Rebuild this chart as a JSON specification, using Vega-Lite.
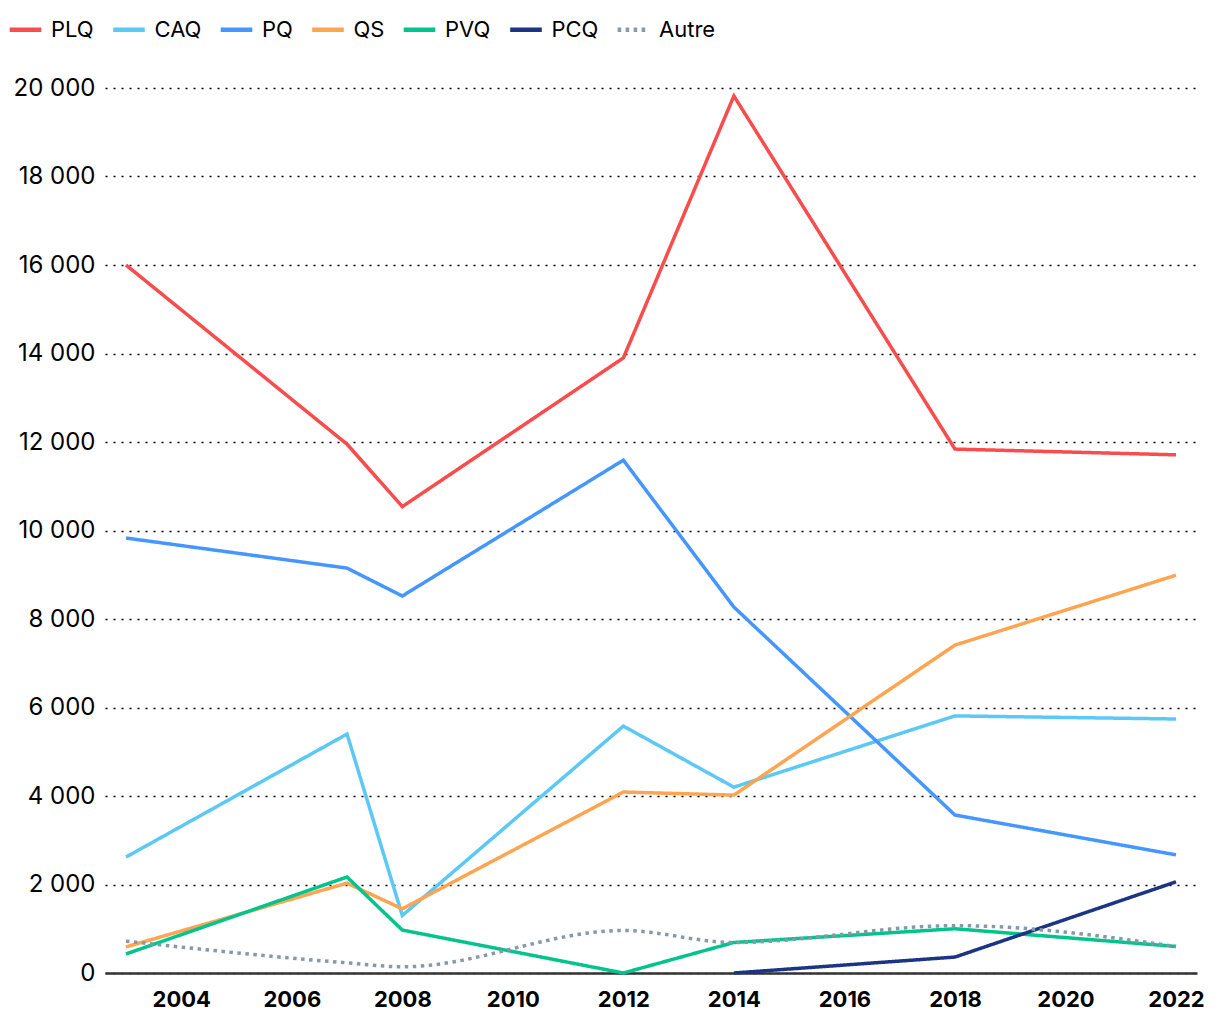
{
  "$schema": "https://vega.github.io/schema/vega-lite/v6.json",
  "width": 1092,
  "height": 885,
  "autosize": {"type": "none"},
  "padding": {"left": 105, "top": 88, "right": 23, "bottom": 47},
  "config": {"view": {"stroke": null}, "font": "Inter", "background": "white"},
  "data": {"values": [
    {"annee": 2003, "parti": "PLQ", "votes": 16000},
    {"annee": 2007, "parti": "PLQ", "votes": 11950},
    {"annee": 2008, "parti": "PLQ", "votes": 10540},
    {"annee": 2012, "parti": "PLQ", "votes": 13900},
    {"annee": 2014, "parti": "PLQ", "votes": 19820},
    {"annee": 2018, "parti": "PLQ", "votes": 11840},
    {"annee": 2022, "parti": "PLQ", "votes": 11710},
    {"annee": 2003, "parti": "CAQ", "votes": 2620},
    {"annee": 2007, "parti": "CAQ", "votes": 5400},
    {"annee": 2008, "parti": "CAQ", "votes": 1300},
    {"annee": 2012, "parti": "CAQ", "votes": 5580},
    {"annee": 2014, "parti": "CAQ", "votes": 4200},
    {"annee": 2018, "parti": "CAQ", "votes": 5810},
    {"annee": 2022, "parti": "CAQ", "votes": 5740},
    {"annee": 2003, "parti": "PQ", "votes": 9830},
    {"annee": 2007, "parti": "PQ", "votes": 9150},
    {"annee": 2008, "parti": "PQ", "votes": 8520},
    {"annee": 2012, "parti": "PQ", "votes": 11590},
    {"annee": 2014, "parti": "PQ", "votes": 8270},
    {"annee": 2018, "parti": "PQ", "votes": 3570},
    {"annee": 2022, "parti": "PQ", "votes": 2670},
    {"annee": 2003, "parti": "QS", "votes": 590},
    {"annee": 2007, "parti": "QS", "votes": 2030},
    {"annee": 2008, "parti": "QS", "votes": 1450},
    {"annee": 2012, "parti": "QS", "votes": 4090},
    {"annee": 2014, "parti": "QS", "votes": 4020},
    {"annee": 2018, "parti": "QS", "votes": 7410},
    {"annee": 2022, "parti": "QS", "votes": 8990},
    {"annee": 2003, "parti": "PVQ", "votes": 430},
    {"annee": 2007, "parti": "PVQ", "votes": 2170},
    {"annee": 2008, "parti": "PVQ", "votes": 970},
    {"annee": 2012, "parti": "PVQ", "votes": 0},
    {"annee": 2014, "parti": "PVQ", "votes": 690},
    {"annee": 2018, "parti": "PVQ", "votes": 1000},
    {"annee": 2022, "parti": "PVQ", "votes": 600},
    {"annee": 2014, "parti": "PCQ", "votes": 0},
    {"annee": 2018, "parti": "PCQ", "votes": 360},
    {"annee": 2022, "parti": "PCQ", "votes": 2060},
    {"annee": 2003, "parti": "Autre", "votes": 720},
    {"annee": 2007, "parti": "Autre", "votes": 230},
    {"annee": 2008, "parti": "Autre", "votes": 140},
    {"annee": 2012, "parti": "Autre", "votes": 960},
    {"annee": 2014, "parti": "Autre", "votes": 690},
    {"annee": 2018, "parti": "Autre", "votes": 1070},
    {"annee": 2022, "parti": "Autre", "votes": 600}
  ]},
  "encoding": {
    "x": {
      "field": "annee", "type": "quantitative",
      "scale": {"domain": [2002.62, 2022.38], "nice": false, "zero": false},
      "axis": {
        "title": null, "values": [2004, 2006, 2008, 2010, 2012, 2014, 2016, 2018, 2020, 2022],
        "format": "d", "grid": false, "ticks": false,
        "domainColor": "#333333", "domainWidth": 2.5,
        "labelFont": "Inter", "labelFontSize": 22, "labelFontWeight": "bold",
        "labelColor": "#000000", "labelPadding": 16
      }
    },
    "y": {
      "field": "votes", "type": "quantitative",
      "scale": {"domain": [0, 20000], "nice": false},
      "axis": {
        "title": null, "values": [0, 2000, 4000, 6000, 8000, 10000, 12000, 14000, 16000, 18000, 20000],
        "labelExpr": "replace(format(datum.value, ','), ',', ' ')",
        "domain": false, "ticks": false,
        "grid": true, "gridColor": "#000000", "gridDash": [2, 6], "gridWidth": 1.5,
        "labelFont": "Inter", "labelFontSize": 24, "labelColor": "#000000", "labelPadding": 10
      }
    },
    "color": {
      "field": "parti", "type": "nominal",
      "scale": {
        "domain": ["PLQ", "CAQ", "PQ", "QS", "PVQ", "PCQ", "Autre"],
        "range": ["#F94C4C", "#5CC8F5", "#4597FF", "#FFA552", "#00C48C", "#1B3483", "#8599A8"]
      },
      "legend": {
        "title": null, "orient": "none", "direction": "horizontal",
        "legendX": -98, "legendY": -77,
        "symbolType": "stroke", "symbolSize": 1000, "symbolStrokeWidth": 4.5,
        "labelFont": "Inter", "labelFontSize": 22, "labelColor": "#000000",
        "labelOffset": 7, "columnPadding": 9.5
      }
    },
    "strokeDash": {
      "field": "parti", "type": "nominal",
      "scale": {
        "domain": ["PLQ", "CAQ", "PQ", "QS", "PVQ", "PCQ", "Autre"],
        "range": [[1, 0], [1, 0], [1, 0], [1, 0], [1, 0], [1, 0], [3.5, 4.5]]
      },
      "legend": null
    }
  },
  "layer": [
    {
      "transform": [{"filter": "datum.parti != 'Autre'"}],
      "mark": {"type": "line", "strokeWidth": 3.5}
    },
    {
      "transform": [{"filter": "datum.parti == 'Autre'"}],
      "mark": {"type": "line", "strokeWidth": 3.5, "interpolate": "monotone"}
    }
  ]
}
